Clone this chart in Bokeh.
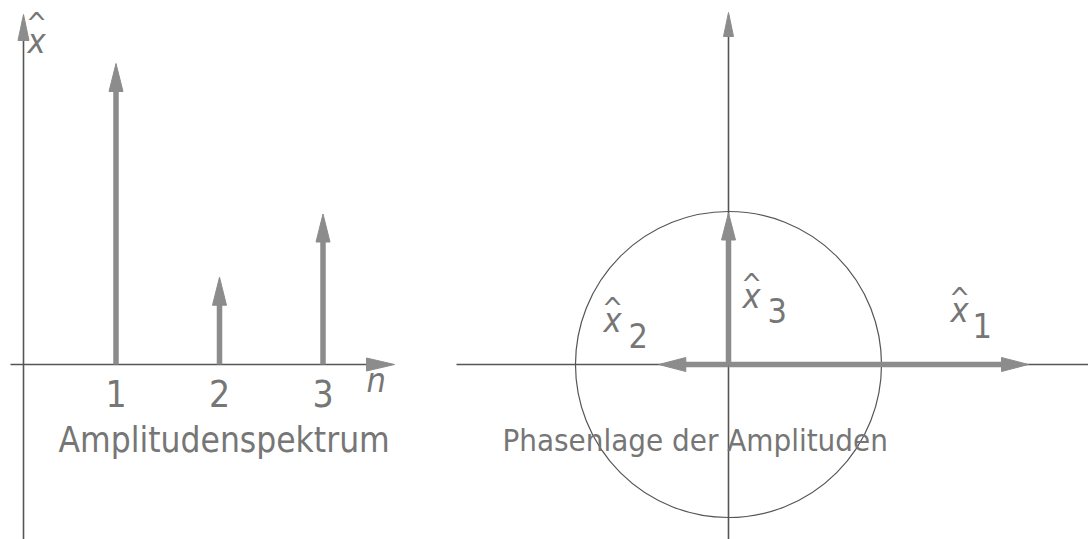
import math
from bokeh.plotting import figure
from bokeh.layouts import row
from bokeh.models import ColumnDataSource
from bokeh.core.properties import value
from bokeh.embed import file_html
from bokeh.resources import INLINE

# ---- data -------------------------------------------------------------
harmonics = [1, 2, 3]                 # order n
amplitudes = [1.0, 0.29, 0.5]         # amplitude spectrum x^_n
tick_labels = ["1", "2", "3"]

phasor_names = ["1", "2", "3"]        # subscripts of x^_n
phasor_amp = [0.99, 0.23, 0.50]       # drawn phasor lengths
phasor_deg = [0, 180, 90]             # phase angle in degrees
circle_radius = 0.505

# ---- styling ----------------------------------------------------------
FONT = value("DejaVu Sans Condensed")
TXT = "#767676"
AXIS = "#555555"
ARROW = "#8c8c8c"
LIFT = -13        # screen-pixel lift applied to every text baseline

H = 539
W_L, W_R = 440, 648
# pixel scale of each panel (pixels per data unit)
LX, LY = 103.5, 301.0
R = 303.0

l_x0 = 1 - 115.5 / LX
l_y0 = -(H - 364) / LY
left = figure(width=W_L, height=H, x_range=(l_x0, l_x0 + W_L / LX),
              y_range=(l_y0, l_y0 + H / LY), x_axis_type=None, y_axis_type=None,
              toolbar_location=None, output_backend="svg", min_border=0,
              outline_line_color=None, background_fill_color="white")
left.grid.visible = False

r_x0 = -288 / R
r_y0 = -(H - 364) / R
right = figure(width=W_R, height=H, x_range=(r_x0, r_x0 + W_R / R),
               y_range=(r_y0, r_y0 + H / R), x_axis_type=None, y_axis_type=None,
               toolbar_location=None, output_backend="svg", min_border=0,
               outline_line_color=None, background_fill_color="white")
right.grid.visible = False


def arrow(p, x0, y0, x1, y1, sx, sy, shaft_w, head_len, head_w,
          shaft_color, head_color):
    """Shaft plus filled, elongated triangular head; sizes in pixels."""
    dxp, dyp = (x1 - x0) / sx, (y1 - y0) / sy
    L = math.hypot(dxp, dyp)
    ux, uy = dxp / L, dyp / L
    bx, by = -ux * head_len, -uy * head_len
    px, py = -uy * head_w / 2, ux * head_w / 2
    hx = [x1, x1 + (bx + px) * sx, x1 + (bx - px) * sx]
    hy = [y1, y1 + (by + py) * sy, y1 + (by - py) * sy]
    ex, ey = x1 + bx * 0.6 * sx, y1 + by * 0.6 * sy
    p.segment(x0, y0, ex, ey, line_width=shaft_w, line_color=shaft_color,
              line_cap="butt")
    p.patch(hx, hy, fill_color=head_color, line_color=head_color, line_width=1)


def label(p, x, y, s, size, italic=False, align="left", dx=0, dy=0):
    p.text([x], [y], text=[s], text_font=FONT, text_font_size=f"{size}px",
           text_font_style="italic" if italic else "normal", text_color=TXT,
           text_align=align, text_baseline="alphabetic",
           x_offset=dx, y_offset=LIFT + dy)


def hat_label(p, x, y, sub=None, sub_dx=0.0, sub_dy=0.0, hat_dy=-11, size=34):
    label(p, x, y, "x", size, italic=True)
    label(p, x, y, "^", 28, align="center", dx=9, dy=hat_dy)
    if sub is not None:
        label(p, x + sub_dx, y + sub_dy, sub, size)


# ---- left panel: amplitude spectrum ------------------------------------
slx, sly = 1 / LX, 1 / LY
ax_n = (23 - 12) / LX
# axes
arrow(left, ax_n, l_y0, ax_n, (364 - 14) / LY, slx, sly, 1.6, 26, 11, AXIS, ARROW)
arrow(left, (10 - 12) / LX, 0, (394 - 12) / LX, 0, slx, sly, 1.6, 28, 13, AXIS, ARROW)
# spectral lines
for n, a in zip(harmonics, amplitudes):
    arrow(left, n, 0, n, a, slx, sly, 5.5, 28, 14, ARROW, ARROW)

src = ColumnDataSource(dict(x=harmonics, y=[-0.14] * 3, t=tick_labels))
left.text("x", "y", text="t", source=src, text_font=FONT, text_font_size="37px",
          text_color=TXT, text_align="center", text_baseline="alphabetic",
          y_offset=LIFT)
label(left, (366 - 12) / LX, (364 - 392) / LY, "n", 34, italic=True)
label(left, (58 - 12) / LX, (364 - 452) / LY, "Amplitudenspektrum", 35)
hat_label(left, (27 - 12) / LX, (364 - 53) / LY, hat_dy=-17)

# ---- right panel: phase positions -------------------------------------
sr = 1 / R
right.circle(x=[0], y=[0], radius=circle_radius, fill_color=None,
             line_color=AXIS, line_width=1.2)
right.segment(x0=[(456 - 728) / R], y0=[0], x1=[r_x0 + W_R / R], y1=[0],
              line_color=AXIS, line_width=1.5)
arrow(right, 0, r_y0, 0, (364 - 12) / R, sr, sr, 1.6, 24, 10, AXIS, ARROW)

for amp, deg in zip(phasor_amp, phasor_deg):
    t = math.radians(deg)
    arrow(right, 0, 0, amp * math.cos(t), amp * math.sin(t), sr, sr,
          5.5, 27, 14, ARROW, ARROW)

hat_label(right, (950 - 728) / R, (364 - 322) / R, "1", 22 / R, -16 / R)
hat_label(right, (603 - 728) / R, (364 - 332) / R, "2", 25 / R, -16 / R)
hat_label(right, (742 - 728) / R, (364 - 308) / R, "3", 25 / R, -15 / R)

label(right, (502 - 728) / R, (364 - 452) / R, "Phasenlage der Amplituden", 31)

layout = row(left, right)
open("out.html", "w").write(file_html(layout, INLINE))
